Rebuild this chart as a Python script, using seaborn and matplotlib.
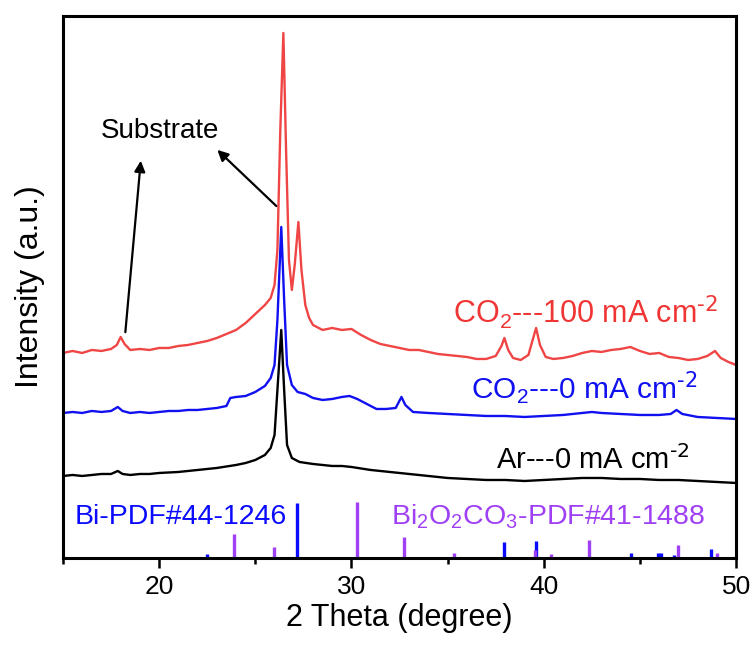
import matplotlib
matplotlib.use("Agg")
import matplotlib.pyplot as plt
import seaborn as sns

# 2 theta positions and offset intensities
red_x = [15.0, 15.5, 16.0, 16.5, 17.0, 17.5, 17.8, 18.0, 18.2, 18.5, 19.0, 19.5, 20.0, 20.5,
         21.0, 21.5, 22.0, 22.5, 23.0, 23.5, 24.0, 24.5, 25.0, 25.5, 25.8, 26.0, 26.15, 26.3,
         26.46, 26.6, 26.75, 26.9, 27.05, 27.24, 27.4, 27.6, 27.8, 28.0, 28.5, 29.0, 29.5, 30.0,
         30.5, 31.0, 31.5, 32.0, 32.5, 33.0, 33.5, 34.0, 34.5, 35.0, 35.5, 36.0, 36.5, 37.0,
         37.5, 37.8, 37.95, 38.15, 38.4, 38.8, 39.2, 39.45, 39.6, 39.8, 40.1, 40.5, 41.0, 41.5,
         42.0, 42.5, 43.0, 43.5, 44.0, 44.5, 45.0, 45.5, 46.0, 46.5, 47.0, 47.5, 48.0, 48.5,
         48.9, 49.2, 49.6, 50.0]
red_y = [205, 207, 205, 208, 207, 209, 213, 221, 214, 208, 209, 208, 210, 210,
         212, 213, 215, 217, 220, 224, 228, 235, 244, 253, 260, 273, 308, 428,
         525, 408, 298, 268, 293, 336, 288, 253, 240, 233, 228, 230, 228, 229,
         223, 218, 214, 212, 210, 208, 208, 206, 204, 203, 202, 201, 199, 199,
         202, 212, 220, 208, 200, 198, 203, 220, 230, 213, 201, 199, 200, 202,
         205, 207, 206, 208, 209, 211, 207, 204, 205, 201, 200, 198, 199, 202,
         207, 200, 196, 193]

blue_x = [15.0, 15.5, 16.0, 16.5, 17.0, 17.5, 17.85, 18.1, 18.5, 19.0, 19.5, 20.0, 20.5, 21.0,
          21.5, 22.0, 22.5, 23.0, 23.5, 23.7, 24.0, 24.5, 25.0, 25.5, 25.8, 26.0, 26.15, 26.35,
          26.5, 26.65, 26.9, 27.2, 27.6, 28.0, 28.5, 29.0, 29.5, 29.9, 30.3, 30.8, 31.3, 31.8,
          32.3, 32.6, 32.8, 33.2, 34.0, 35.0, 36.0, 37.0, 38.0, 39.0, 40.0, 41.0, 42.0, 42.5,
          43.0, 44.0, 45.0, 46.0, 46.6, 46.9, 47.2, 48.0, 49.0, 50.0]
blue_y = [145, 146, 145, 147, 146, 147, 151, 147, 145, 146, 145, 146, 147, 147,
          148, 148, 149, 150, 152, 160, 161, 162, 166, 172, 180, 193, 238, 331,
          258, 193, 173, 166, 164, 160, 158, 159, 161, 162, 159, 154, 149, 149,
          150, 161, 153, 146, 145, 144, 143, 142, 142, 141, 142, 143, 145, 146,
          145, 144, 143, 143, 144, 148, 144, 141, 140, 139]

black_x = [15.0, 15.5, 16.0, 16.5, 17.0, 17.5, 17.85, 18.1, 18.5, 19.0, 19.5, 20.0, 21.0, 22.0,
           23.0, 24.0, 24.5, 25.0, 25.5, 25.8, 26.0, 26.15, 26.35, 26.5, 26.65, 26.9, 27.3, 28.0,
           28.5, 29.0, 29.5, 30.0, 31.0, 32.0, 33.0, 34.0, 35.0, 36.0, 37.0, 38.0, 39.0, 40.0,
           41.0, 42.0, 43.0, 44.0, 45.0, 46.0, 47.0, 48.0, 49.0, 50.0]
black_y = [82, 83, 82, 83, 84, 84, 87, 84, 83, 84, 84, 85, 86, 88,
           90, 93, 95, 98, 103, 110, 123, 168, 228, 168, 113, 100, 96, 94,
           93, 92, 92, 91, 88, 86, 84, 82, 80, 79, 78, 78, 77, 78,
           79, 80, 80, 79, 79, 78, 78, 77, 76, 75]

# reference patterns (stick positions and heights)
bi_pos = [22.5, 27.17, 37.95, 39.62, 44.55, 45.95, 46.1, 46.75, 48.7]
bi_h = [4, 55, 16, 17, 5, 5, 5, 3, 9]
bioc_pos = [23.88, 25.97, 30.28, 32.75, 35.35, 39.55, 40.4, 42.35, 47.0, 49.0]
bioc_h = [24, 11, 56, 21, 5, 8, 4, 18, 13, 5]

sns.set_theme(style="ticks")
plt.rcParams['font.family'] = ['Liberation Sans', 'DejaVu Sans']
plt.rcParams['mathtext.default'] = 'regular'
plt.rcParams['text.color'] = 'black'
plt.rcParams['axes.labelcolor'] = 'black'
plt.rcParams['xtick.color'] = 'black'

fig = plt.figure(figsize=(7.55, 6.52), dpi=100)
ax = fig.add_axes([0.0834, 0.1442, 0.8916, 0.8313])

sns.lineplot(x=red_x, y=red_y, color='#f04545', lw=1.7, ax=ax)
sns.lineplot(x=blue_x, y=blue_y, color='#1010f0', lw=1.7, ax=ax)
sns.lineplot(x=black_x, y=black_y, color='black', lw=1.7, ax=ax)

ax.vlines(bi_pos, 0, bi_h, color='#0a0aff', lw=2.4)
ax.vlines(bioc_pos, 0, bioc_h, color='#a040f5', lw=2.4)

ax.set_xlim(15, 50)
ax.set_ylim(0, 542)
ax.set_xticks([20, 30, 40, 50])
ax.set_xticks([15, 25, 35, 45], minor=True)
ax.set_yticks([])
ax.tick_params(axis='x', which='major', direction='out', length=7, width=1.8,
               labelsize=19, pad=5, color='black', labelcolor='black')
ax.tick_params(axis='x', which='minor', direction='out', length=4, width=1.8, color='black')
for s in ax.spines.values():
    s.set_linewidth(2.2)
    s.set_color('black')

ax.set_xlabel('2 Theta (degree)', fontsize=22, labelpad=3)
ax.set_ylabel('Intensity (a.u.)', fontsize=23, labelpad=13)

ax.text(35.26, 246, r'CO$_2$---100 mA cm$^{\text{-2}}$', color='#f03535', fontsize=22,
        ha='left', va='center')
ax.text(36.2, 170, r'CO$_2$---0 mA cm$^{\text{-2}}$', color='#1010f0', fontsize=21.5,
        ha='left', va='center')
ax.text(37.5, 98, r'Ar---0 mA cm$^{\text{-2}}$', color='black', fontsize=21,
        ha='left', va='center')
ax.text(15.63, 41, 'Bi-PDF#44-1246', color='#0a0aff', fontsize=20.5, ha='left', va='center')
ax.text(32.03, 41, r'Bi$_2$O$_2$CO$_3$-PDF#41-1488', color='#a040f5', fontsize=20.5,
        ha='left', va='center')

ax.text(20.05, 427, 'Substrate', color='black', fontsize=20, ha='center', va='center')
ax.annotate('', xy=(22.92, 410), xytext=(26.2, 350),
            arrowprops=dict(arrowstyle='-|>', color='black', lw=1.6, mutation_scale=16))
ax.annotate('', xy=(19.06, 400), xytext=(18.23, 223),
            arrowprops=dict(arrowstyle='-|>', color='black', lw=1.6, mutation_scale=16))

fig.savefig('out.png', dpi=100)
